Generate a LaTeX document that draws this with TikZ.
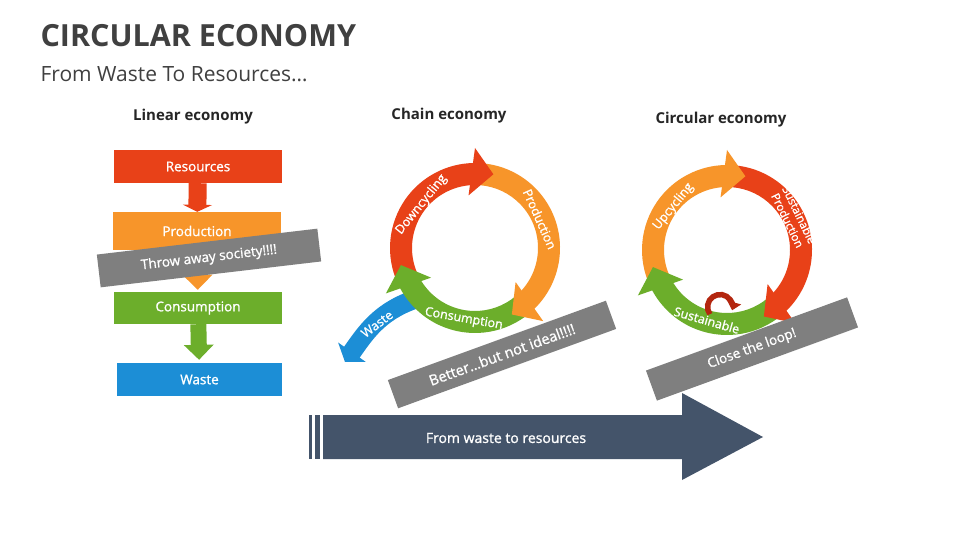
\documentclass[tikz,border=0pt]{standalone}
\RequirePackage{fontspec}
\setmainfont{Open Sans}
\newfontfamily\semib[FakeBold=1.2]{Open Sans}
\RequirePackage{tikz}
\usetikzlibrary{calc}
\usetikzlibrary{arrows.meta}

\definecolor{titlegray}{HTML}{404040}
\definecolor{headgray}{HTML}{262626}
\definecolor{ecored}{HTML}{E84118}
\definecolor{ecoorange}{HTML}{F7952A}
\definecolor{ecogreen}{HTML}{6CAE2B}
\definecolor{ecoblue}{HTML}{1C8ED6}
\definecolor{bannergray}{HTML}{7F7F7F}
\definecolor{slate}{HTML}{44546A}
\definecolor{loopred}{HTML}{B3260F}

\begin{document}
\begin{tikzpicture}[x=1pt,y=1pt,
        box/.style={minimum width=168pt,minimum height=33pt,inner sep=0pt,text=white,font=\semib\fontsize{13.5}{15}\selectfont},
        flow/.style={line width=16pt,-{Triangle[width=29pt,length=15pt]}},
        banner/.style={fill=bannergray,text=white,inner sep=0pt,font=\semib\fontsize{13.5}{16}\selectfont},
        ringtext/.style={text=white,inner sep=0pt,font=\semib\fontsize{12.5}{14}\selectfont},
        heading/.style={anchor=base,text=headgray,font=\bfseries\fontsize{15}{18}\selectfont}]

                \fill[white] (0,0) rectangle (960,-540);
                \useasboundingbox (0,0) rectangle (960,-540);

                \node[anchor=base west,text=titlegray,font=\bfseries\fontsize{30.5}{36}\selectfont] (title) at (37,-47) {CIRCULAR ECONOMY};
                \node[anchor=base west,text=titlegray,font=\fontsize{21}{25}\selectfont] (subtitle) at (37,-82) {From Waste To Resources…};

                \node[heading] (linhead) at (193,-121) {Linear economy};
                \node[heading] (chainhead) at (449,-120) {Chain economy};
                \node[heading] (circhead) at (721,-124) {Circular economy};

                \node[box,fill=ecored] (res) at (198,-166.5) {Resources};
                \node[box,fill=ecoorange,minimum height=38pt] (prod) at (197,-231) {Production};
                \node[box,fill=ecogreen,minimum height=32pt] (cons) at (198,-308) {Consumption};
                \node[box,fill=ecoblue,minimum width=165pt] (waste) at (199.5,-379.5) {Waste};

                \draw[flow,ecored,line width=18pt,-{Triangle[width=29pt,length=7pt]}] (res) -- (prod);
                \draw[flow,ecoorange,shorten >=2pt] (prod) -- (cons);
                \draw[flow,ecogreen,shorten >=3pt] (cons) -- (waste);

                \node[banner,minimum width=222pt,minimum height=33pt,rotate=6.7] (throw) at (209,-258) {Throw away society!!!!};

                \coordinate (chain) at (475,-248);
                \coordinate (circ) at (727,-250);

                \coordinate (wastestart) at (413,-300);
                \coordinate (wastetip) at (345,-362);
                \draw[ecoblue,line width=19pt,-{Triangle[width=33pt,length=12pt]}] (wastestart) to[out=200,in=55] (wastetip);
                \node[ringtext,rotate=37] (wastetxt) at (377,-324) {Waste};

                \begin{scope}[shift={(chain)}]
                    \foreach \col/\a/\b in {ecored/205/93,ecoorange/85/-44,ecogreen/-50/-150}
                        \fill[\col] (\a:85) arc[start angle=\a,end angle=\b-2,radius=85] -- ({\b-2}:63) arc[start angle=\b-2,end angle=\a,radius=63] -- cycle;
                    \foreach \col/\b in {ecored/93,ecoorange/-44,ecogreen/-150}
                        \fill[\col] ({\b+4}:53) -- ({\b-3}:100) -- ({\b-17}:76) -- cycle;
                    \node[ringtext,rotate=51] (downtxt) at (141:69) {Downcycling};
                    \node[ringtext,rotate=-66] (prodtxt) at (24:71) {Production};
                    \node[ringtext,rotate=-10] (constxt) at (-99:72) {Consumption};
                \end{scope}

                \begin{scope}[shift={(circ)}]
                    \foreach \col/\a/\b in {ecoorange/205/93,ecored/85/-44,ecogreen/-50/-150}
                        \fill[\col] (\a:85) arc[start angle=\a,end angle=\b-2,radius=85] -- ({\b-2}:63) arc[start angle=\b-2,end angle=\a,radius=63] -- cycle;
                    \foreach \col/\b in {ecoorange/93,ecored/-44,ecogreen/-150}
                        \fill[\col] ({\b+4}:53) -- ({\b-3}:100) -- ({\b-17}:76) -- cycle;
                    \node[ringtext,rotate=51] (uptxt) at (141:69) {Upcycling};
                    \node[ringtext,rotate=-64,align=center,font=\semib\fontsize{11.5}{13}\selectfont] (sprodtxt) at (26:74) {Sustainable\\Production};
                    \node[ringtext,rotate=-16] (sustxt) at (-106:73) {Sustainable};
                \end{scope}

                \coordinate (loopstart) at (709.8,-314.2);
                \draw[loopred,line width=5.5pt,-{Triangle[width=14pt,length=8pt]}] (loopstart) arc[start angle=215,end angle=-15,radius=12.5];

                \fill[slate] (323,-415) -- (682,-415) -- (682,-393) -- (763,-437) -- (682,-480) -- (682,-459) -- (323,-459) -- cycle;
                \fill[slate] (309,-415) rectangle (312,-459);
                \fill[slate] (314.5,-415) rectangle (320,-459);
                \node[text=white,font=\semib\fontsize{14}{17}\selectfont] (fromtxt) at (506,-438) {From waste to resources};

                \node[banner,minimum width=232pt,minimum height=30pt,rotate=20,font=\semib\fontsize{14.5}{17}\selectfont] (better) at (502,-354.5) {Better…but not ideal!!!!};
                \node[banner,minimum width=214pt,minimum height=32pt,rotate=20] (close) at (752,-349) {Close the loop!};
            \end{tikzpicture}
\end{document}
